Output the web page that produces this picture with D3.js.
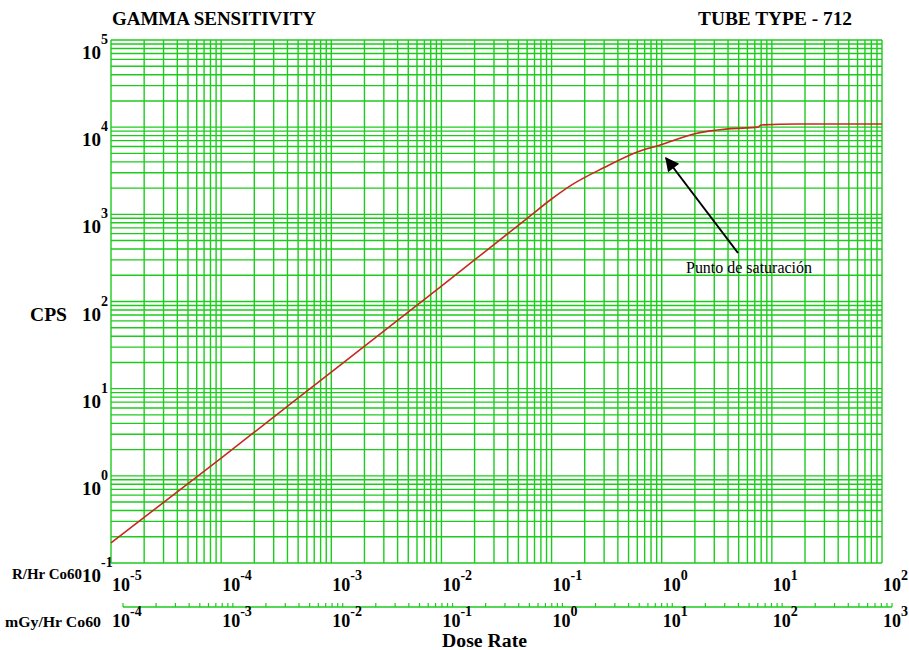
<!DOCTYPE html>
<html>
<head>
<meta charset="utf-8">
<script src="https://cdn.jsdelivr.net/npm/d3@7"></script>
<style>
  body { margin: 0; background: #fff; }
  svg { display: block; }
  text { font-family: "Liberation Serif", "Times New Roman", "DejaVu Serif", serif; }
</style>
</head>
<body>
<svg width="909" height="650"></svg>
<script>
// dose rate (R/Hr Co60) vs counts per second
const doseRate = [1e-5, 1e-4, 1e-3, 1e-2, 3e-2, 6e-2, 0.1, 0.15, 0.3, 0.6, 1, 2, 4, 7.5, 8, 17, 100];
const cps = [0.17, 1.6, 15.5, 150, 450, 900, 1500, 2150, 3440, 5200, 6320, 8400, 9550, 10000, 10600, 10860, 10860];

const rDecades = [-5, -4, -3, -2, -1, 0, 1, 2];
const mGyDecades = [-4, -3, -2, -1, 0, 1, 2, 3];
const cpsDecades = [-1, 0, 1, 2, 3, 4, 5];

const svg = d3.select('svg');
const grid = '#1ccc1c';

const x = d3.scaleLog().domain([1e-5, 1e2]).range([111, 882]);
const y = d3.scaleLog().domain([1e-1, 1e5]).range([563, 40]);
const mGy = d3.scaleLog().domain([1e-4, 1e3]).range([123, 892]);

// log grid
const g = svg.append('g');
g.selectAll('line.v')
  .data(x.ticks())
  .enter()
  .append('line')
  .attr('x1', d => x(d)).attr('x2', d => x(d))
  .attr('y1', y.range()[0]).attr('y2', y.range()[1])
  .attr('stroke', grid)
  .attr('stroke-width', 1.4);
g.selectAll('line.h')
  .data(y.ticks())
  .enter()
  .append('line')
  .attr('y1', d => y(d)).attr('y2', d => y(d))
  .attr('x1', x.range()[0]).attr('x2', x.range()[1])
  .attr('stroke', grid)
  .attr('stroke-width', 1.4);

// curve
const line = d3.line()
  .curve(d3.curveMonotoneX)
  .x((d, i) => x(doseRate[i]))
  .y(d => y(d));
svg.append('path')
  .attr('d', line(cps))
  .attr('fill', 'none')
  .attr('stroke', '#c8281e')
  .attr('stroke-width', 1.6);

// titles
svg.append('text')
  .attr('x', 112).attr('y', 25)
  .attr('font-weight', 'bold').attr('font-size', 19)
  .attr('textLength', 204).attr('lengthAdjust', 'spacingAndGlyphs')
  .text('GAMMA SENSITIVITY');
svg.append('text')
  .attr('x', 698).attr('y', 25)
  .attr('font-weight', 'bold').attr('font-size', 18)
  .attr('textLength', 154).attr('lengthAdjust', 'spacingAndGlyphs')
  .text('TUBE TYPE - 712');

// power-of-ten label helper
function pow10(sel, base, supSize, rise) {
  sel.append('tspan').text('10').attr('font-size', base);
  sel.append('tspan').text(d => d).attr('font-size', supSize).attr('dy', -rise);
}

// y axis labels
svg.append('g')
  .selectAll('text')
  .data(cpsDecades)
  .enter()
  .append('text')
  .attr('x', 82)
  .attr('y', d => y(Math.pow(10, d)) + 19)
  .attr('font-weight', 'bold')
  .call(pow10, 19, 14, 15);

svg.append('text')
  .attr('x', 30).attr('y', 321)
  .attr('font-weight', 'bold').attr('font-size', 19)
  .attr('textLength', 37).attr('lengthAdjust', 'spacingAndGlyphs')
  .text('CPS');

// R/Hr axis labels
svg.append('g')
  .selectAll('text')
  .data(rDecades)
  .enter()
  .append('text')
  .attr('x', d => x(Math.pow(10, d)) + 1)
  .attr('y', 591)
  .attr('font-weight', 'bold')
  .call(pow10, 18, 14, 11);

svg.append('text')
  .attr('x', 12).attr('y', 579)
  .attr('font-weight', 'bold').attr('font-size', 14)
  .attr('textLength', 70).attr('lengthAdjust', 'spacingAndGlyphs')
  .text('R/Hr Co60');

// second scale, mGy/Hr
const axis2 = svg.append('g');
axis2.append('line')
  .attr('x1', mGy.range()[0]).attr('x2', mGy.range()[1])
  .attr('y1', 607).attr('y2', 607)
  .attr('stroke', grid).attr('stroke-width', 1.6);
axis2.selectAll('line.t')
  .data(mGy.ticks())
  .enter()
  .append('line')
  .attr('x1', d => mGy(d)).attr('x2', d => mGy(d))
  .attr('y1', 607).attr('y2', 603)
  .attr('stroke', grid).attr('stroke-width', 1.2);

// mGy labels sit under the matching R/Hr position (1 R = 10 mGy)
svg.append('g')
  .selectAll('text')
  .data(mGyDecades)
  .enter()
  .append('text')
  .attr('x', d => x(Math.pow(10, d - 1)) + 1)
  .attr('y', 627)
  .attr('font-weight', 'bold')
  .call(pow10, 18, 14, 11);

svg.append('text')
  .attr('x', 5).attr('y', 627)
  .attr('font-weight', 'bold').attr('font-size', 15)
  .attr('textLength', 96).attr('lengthAdjust', 'spacingAndGlyphs')
  .text('mGy/Hr Co60');

svg.append('text')
  .attr('x', 442).attr('y', 647)
  .attr('font-weight', 'bold').attr('font-size', 18)
  .attr('textLength', 85).attr('lengthAdjust', 'spacingAndGlyphs')
  .text('Dose Rate');

// annotation arrow pointing at the knee of the curve
const defs = svg.append('defs');
defs.append('marker')
  .attr('id', 'head')
  .attr('viewBox', '0 0 10 10')
  .attr('refX', 9).attr('refY', 5)
  .attr('markerWidth', 8).attr('markerHeight', 7)
  .attr('markerUnits', 'strokeWidth')
  .attr('orient', 'auto')
  .append('path')
  .attr('d', 'M0,0L10,5L0,10z')
  .attr('fill', '#000');

svg.append('line')
  .attr('x1', 738).attr('y1', 253)
  .attr('x2', 666).attr('y2', 158)
  .attr('stroke', '#000')
  .attr('stroke-width', 2)
  .attr('marker-end', 'url(#head)');

svg.append('text')
  .attr('x', 686).attr('y', 273)
  .attr('font-size', 16)
  .attr('textLength', 126).attr('lengthAdjust', 'spacingAndGlyphs')
  .text('Punto de saturación');
</script>
</body>
</html>
